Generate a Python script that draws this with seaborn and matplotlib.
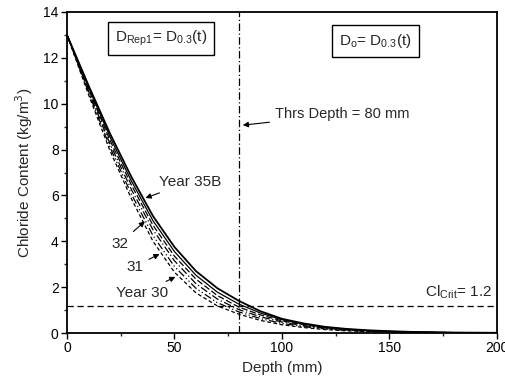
import numpy as np
import pandas as pd
import matplotlib
matplotlib.use("Agg")
import matplotlib.pyplot as plt
import seaborn as sns

sns.set_theme(style="ticks")
plt.rcParams["font.family"] = ["Liberation Sans", "DejaVu Sans"]

# depth (mm)
depth = [0, 10, 20, 30, 40, 50, 60, 70, 80, 90, 100, 110, 120, 130, 140, 150,
         160, 170, 180, 190, 200]

# chloride content (kg/m3), inner to outer
year_30 = [13, 10.4, 7.95, 5.85, 4.0, 2.65, 1.75, 1.18, 0.82, 0.55, 0.36, 0.24,
           0.15, 0.095, 0.06, 0.04, 0.025, 0.015, 0.01, 0.006, 0.004]
year_31 = [13, 10.5, 8.1, 6.05, 4.25, 2.9, 1.95, 1.32, 0.92, 0.63, 0.42, 0.28,
           0.18, 0.115, 0.075, 0.05, 0.03, 0.02, 0.013, 0.008, 0.005]
year_32 = [13, 10.55, 8.25, 6.25, 4.5, 3.15, 2.15, 1.48, 1.02, 0.71, 0.48, 0.32,
           0.21, 0.135, 0.09, 0.058, 0.036, 0.024, 0.015, 0.01, 0.006]
year_33 = [13, 10.65, 8.4, 6.45, 4.7, 3.35, 2.35, 1.63, 1.13, 0.79, 0.53, 0.36,
           0.23, 0.15, 0.1, 0.065, 0.042, 0.027, 0.017, 0.011, 0.007]
year_34 = [13, 10.72, 8.55, 6.62, 4.9, 3.55, 2.52, 1.78, 1.26, 0.87, 0.58, 0.39,
           0.25, 0.165, 0.11, 0.072, 0.046, 0.03, 0.019, 0.012, 0.008]
year_35b = [13, 10.8, 8.7, 6.8, 5.1, 3.75, 2.7, 1.95, 1.4, 0.95, 0.62, 0.42,
            0.27, 0.18, 0.12, 0.08, 0.05, 0.035, 0.02, 0.015, 0.01]

curves = [year_30, year_31, year_32, year_33, year_34, year_35b]
styles = [(0, (3, 2)), (0, (6, 2, 1, 2, 1, 2)), (0, (6, 2, 1, 2)),
          (0, (5, 2)), "-", "-"]
widths = [0.9, 0.9, 0.9, 0.9, 0.9, 1.3]

thrs_depth = 80
cl_crit = 1.2

fig = plt.figure(figsize=(5.06, 3.83), dpi=100)
ax = fig.add_axes([0.1324, 0.1305, 0.8496, 0.8382])

for vals, ls, lw in zip(curves, styles, widths):
    sns.lineplot(x=depth, y=vals, ax=ax, color="black", linestyle=ls, linewidth=lw)

ax.axvline(thrs_depth, color="black", linestyle=(0, (6, 2, 1, 2)), linewidth=0.9)
ax.axhline(cl_crit, color="black", linestyle=(0, (5, 3)), linewidth=0.9)

ax.set_xlim(0, 200)
ax.set_ylim(0, 14)
ax.set_xticks([0, 50, 100, 150, 200])
ax.set_xticks([25, 75, 125, 175], minor=True)
ax.set_yticks(range(0, 15, 2))
ax.set_yticks(range(1, 14, 2), minor=True)
ax.tick_params(which="major", direction="out", length=4, width=1, labelsize=10,
               colors="black", pad=2)
ax.tick_params(which="minor", direction="out", length=2.5, width=1)
for sp in ax.spines.values():
    sp.set_linewidth(1.3)
    sp.set_color("black")
    sp.set_visible(True)

ax.set_xlabel("Depth (mm)", fontsize=11, labelpad=4)
ax.set_ylabel("Chloride Content (kg/m$^3$)", fontsize=11, labelpad=6)

# boxed captions
box = dict(boxstyle="square,pad=0.45", facecolor="white", edgecolor="black", linewidth=1)
ax.text(43.7, 12.85, "D$_{\\mathregular{Rep1}}$= D$_{\\mathregular{0.3}}$(t)", fontsize=11,
        ha="center", va="center", bbox=box)
ax.text(143.5, 12.75, "D$_{\\mathregular{o}}$= D$_{\\mathregular{0.3}}$(t)", fontsize=11,
        ha="center", va="center", bbox=box)

arrow = dict(arrowstyle="-|>", color="black", lw=0.8, mutation_scale=8)
ax.annotate("Thrs Depth = 80 mm", xy=(80.5, 9.05), xytext=(97, 9.55), fontsize=10.5,
            ha="left", va="center", arrowprops=arrow)
ax.annotate("Year 35B", xy=(35.3, 5.85), xytext=(43, 6.6), fontsize=11,
            ha="left", va="center", arrowprops=arrow)
ax.annotate("32", xy=(37.2, 4.95), xytext=(24.5, 3.9), fontsize=11,
            ha="center", va="center", arrowprops=arrow)
ax.annotate("31", xy=(44.2, 3.5), xytext=(31.5, 2.9), fontsize=11,
            ha="center", va="center", arrowprops=arrow)
ax.annotate("Year 30", xy=(51.6, 2.5), xytext=(35, 1.75), fontsize=11,
            ha="center", va="center", arrowprops=arrow)
ax.text(198, 1.4, "Cl$_{\\mathregular{Crit}}$= 1.2", fontsize=11, ha="right", va="bottom")

fig.savefig("out.png", dpi=100)
